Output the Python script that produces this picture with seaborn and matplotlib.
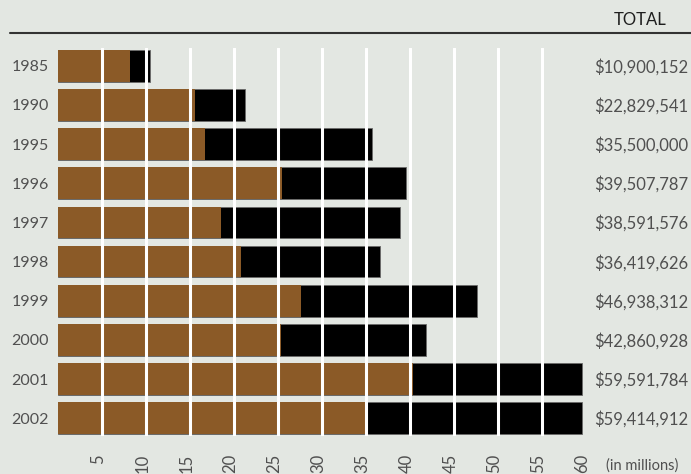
import matplotlib
matplotlib.use("Agg")
import matplotlib.pyplot as plt
import matplotlib.transforms as mtransforms
import seaborn as sns
import pandas as pd
from matplotlib.lines import Line2D

years = ["1985", "1990", "1995", "1996", "1997", "1998", "1999", "2000", "2001", "2002"]
brown_part = [8.15, 15.5, 16.7, 25.45, 18.5, 20.75, 27.55, 25.3, 40.3, 34.85]
bar_total = [10.4, 21.2, 35.7, 39.5, 38.8, 36.55, 47.6, 41.8, 59.55, 59.5]
total_labels = ["$10,900,152", "$22,829,541", "$35,500,000", "$39,507,787", "$38,591,576",
                "$36,419,626", "$46,938,312", "$42,860,928", "$59,591,784", "$59,414,912"]
ticks = [5, 10, 15, 20, 25, 30, 35, 40, 45, 50, 55, 60]
grid_at = [5, 10, 15, 20, 25, 30, 35, 40, 45, 50, 55]

BG = "#e3e7e2"
BROWN = "#8b5a27"
TXT = "#505050"

sns.set_theme(style="white")
plt.rcParams["font.family"] = ["Lato", "DejaVu Sans"]

df = pd.DataFrame({"year": years, "brown": brown_part, "total": bar_total})

fig = plt.figure(figsize=(6.91, 4.74), dpi=100, facecolor=BG)
W, H = 691, 474
unit = 8.8
left_px, right_px = 58.3, 58.3 + 60 * unit
top_px, bot_px = 48, 436
ax = fig.add_axes([left_px / W, 1 - bot_px / H, (right_px - left_px) / W, (bot_px - top_px) / H])
ax.set_facecolor(BG)

sns.barplot(data=df, x="total", y="year", order=years, color="black", width=0.81,
            orient="h", ax=ax, edgecolor="#6a6a6a", linewidth=0.6, saturation=1)
sns.barplot(data=df, x="brown", y="year", order=years, color=BROWN, width=0.81,
            orient="h", ax=ax, linewidth=0, saturation=1)

for t in grid_at:
    ax.axvline(t, color="white", lw=2.2, zorder=5)

ax.set_xlim(0, 60)
ax.set_ylim(9.45, -0.45)
for s in ax.spines.values():
    s.set_visible(False)
ax.set_xlabel("")
ax.set_ylabel("")
ax.set_xticks(ticks)
ax.set_xticklabels([str(t) for t in ticks], rotation=90, fontsize=12, color=TXT)
ax.tick_params(axis="x", length=0, pad=13)
ax.tick_params(axis="y", length=0, pad=7)
for lab in ax.get_yticklabels():
    lab.set_fontsize(11.5)
    lab.set_color(TXT)
shift = mtransforms.ScaledTranslation(-4 / 100, 0, fig.dpi_scale_trans)
for lab in ax.get_xticklabels():
    lab.set_transform(lab.get_transform() + shift)

blend = mtransforms.blended_transform_factory(fig.transFigure, ax.transData)
for i, lab in enumerate(total_labels):
    ax.text(688 / W, i + 0.03, lab, transform=blend, ha="right", va="center",
            fontsize=12, color=TXT)

fig.text(667 / W, 1 - 20 / H, "TOTAL", ha="right", va="center", fontsize=12, color="#1e1e1e")
fig.text(606 / W, 1 - 466 / H, "(in millions)", ha="left", va="center", fontsize=10.5,
         color=TXT)
fig.add_artist(Line2D([10 / W, 1], [1 - 33 / H, 1 - 33 / H], transform=fig.transFigure,
                      color="#333333", lw=1.5))

fig.savefig("out.png", dpi=100, facecolor=BG)
